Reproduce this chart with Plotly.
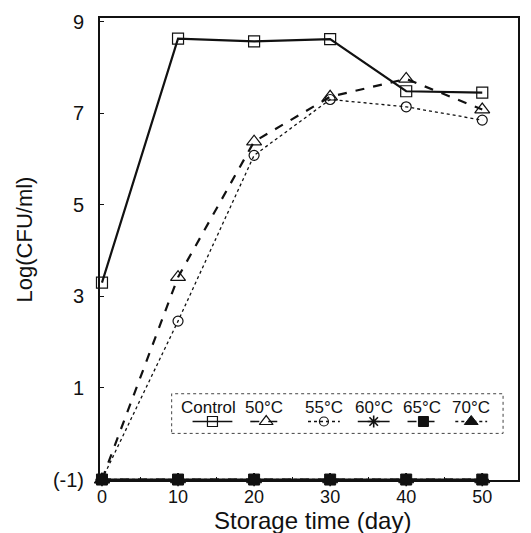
import plotly.graph_objects as go

days = [0, 10, 20, 30, 40, 50]
control = [3.3, 8.63, 8.57, 8.62, 7.48, 7.45]
t50 = [-1, 3.42, 6.38, 7.36, 7.75, 7.08]
t55 = [-1, 2.46, 6.08, 7.3, 7.14, 6.85]
t60 = [-1, -1, -1, -1, -1, -1]
t65 = [-1, -1, -1, -1, -1, -1]
t70 = [-1, -1, -1, -1, -1, -1]

series_names = ["Control", "50°C", "55°C", "60°C", "65°C", "70°C"]
series_values = [control, t50, t55, t60, t65, t70]

ytick_vals = [-1, 1, 3, 5, 7, 9]
ytick_text = ["(-1)", "1", "3", "5", "7", "9"]
xtick_vals = [0, 10, 20, 30, 40, 50]

FONT = "Liberation Sans, Arial, sans-serif"
INK = "#111111"

styles = [
    dict(dash="solid", width=2.2, symbol="square-open", size=11, lw=1.2),
    dict(dash="dash", width=2.2, symbol="triangle-up-open", size=13, lw=1.2),
    dict(dash="dot", width=1.3, symbol="circle-open", size=10, lw=1.2),
    dict(dash="solid", width=2.0, symbol="asterisk-open", size=11, lw=1.6),
    dict(dash="dash", width=2.0, symbol="square", size=11, lw=1),
    dict(dash="dot", width=1.5, symbol="triangle-up", size=13, lw=1),
]

fig = go.Figure()

# draw bottom series first, then upper ones
order = [3, 4, 5, 2, 1, 0]
for i in order:
    s = styles[i]
    fig.add_trace(go.Scatter(
        x=days, y=series_values[i], mode="lines+markers", name=series_names[i],
        line=dict(color=INK, width=s["width"], dash=s["dash"]),
        marker=dict(symbol=s["symbol"], size=s["size"], color=INK,
                    line=dict(color=INK, width=s["lw"])),
        cliponaxis=False, showlegend=False,
    ))

# custom legend (labels above line samples), on an overlay axis in paper-like units
W, H = 420.0, 466.0  # plot area in px
L0, B0 = 100.0, 480.0
def px(xp):
    return (xp - L0) / W
def py(yp):
    return (B0 - yp) / H

legend_centers = [213, 267, 325, 375, 425, 473]
text_centers = [209, 265, 325, 375, 424, 473]
sample_y = py(421)
text_y = py(407)
half = [20, 16, 16, 16, 16, 16]

for i, name in enumerate(series_names):
    s = styles[i]
    c = legend_centers[i]
    fig.add_trace(go.Scatter(
        x=[px(c - half[i]), px(c + half[i])], y=[sample_y, sample_y],
        mode="lines", line=dict(color=INK, width=min(s["width"], 1.6), dash=s["dash"]),
        xaxis="x2", yaxis="y2", showlegend=False, hoverinfo="skip"))
    fig.add_trace(go.Scatter(
        x=[px(c)], y=[sample_y], mode="markers",
        marker=dict(symbol=s["symbol"], size=s["size"] - 1, color=INK,
                    line=dict(color=INK, width=s["lw"])),
        xaxis="x2", yaxis="y2", showlegend=False, hoverinfo="skip"))
    fig.add_annotation(x=px(text_centers[i]), y=text_y, xref="paper", yref="paper",
                       text=name, showarrow=False, xanchor="center", yanchor="middle",
                       font=dict(family=FONT, size=17, color=INK))

fig.add_shape(type="rect", xref="paper", yref="paper",
              x0=px(172), x1=px(505), y0=py(433), y1=py(393),
              line=dict(color="#444444", width=1, dash="dot"), fillcolor="rgba(0,0,0,0)")

# axis titles
fig.add_annotation(x=px(314), y=py(521), xref="paper", yref="paper",
                   text="Storage time (day)", showarrow=False,
                   xanchor="center", yanchor="middle",
                   font=dict(family=FONT, size=24, color=INK))
fig.add_annotation(x=px(24), y=py(237), xref="paper", yref="paper",
                   text="Log(CFU/ml)", showarrow=False, textangle=-90,
                   xanchor="center", yanchor="middle",
                   font=dict(family=FONT, size=22, color=INK))

fig.update_layout(
    width=531, height=533,
    margin=dict(l=100, r=11, t=14, b=53),
    paper_bgcolor="white", plot_bgcolor="white",
    font=dict(family=FONT, color=INK),
    xaxis=dict(range=[-0.26, 54.7], tickvals=xtick_vals, showgrid=False, zeroline=False,
               showline=True, linecolor=INK, linewidth=1.6, mirror=True,
               ticks="inside", ticklen=5, tickcolor=INK,
               minor=dict(dtick=5, tick0=0, ticks="inside", ticklen=3, tickcolor=INK),
               tickfont=dict(family=FONT, size=18, color=INK)),
    yaxis=dict(range=[-1.01, 9.08], tickvals=ytick_vals, ticktext=ytick_text,
               showgrid=False, zeroline=False,
               showline=True, linecolor=INK, linewidth=2, mirror=True,
               ticks="inside", ticklen=4, tickcolor=INK,
               ticklabelstandoff=10,
               tickfont=dict(family=FONT, size=20, color=INK)),
    xaxis2=dict(range=[0, 1], overlaying="x", anchor="y2", visible=False),
    yaxis2=dict(range=[0, 1], overlaying="y", anchor="x2", visible=False),
)

fig.write_html("out.html")
